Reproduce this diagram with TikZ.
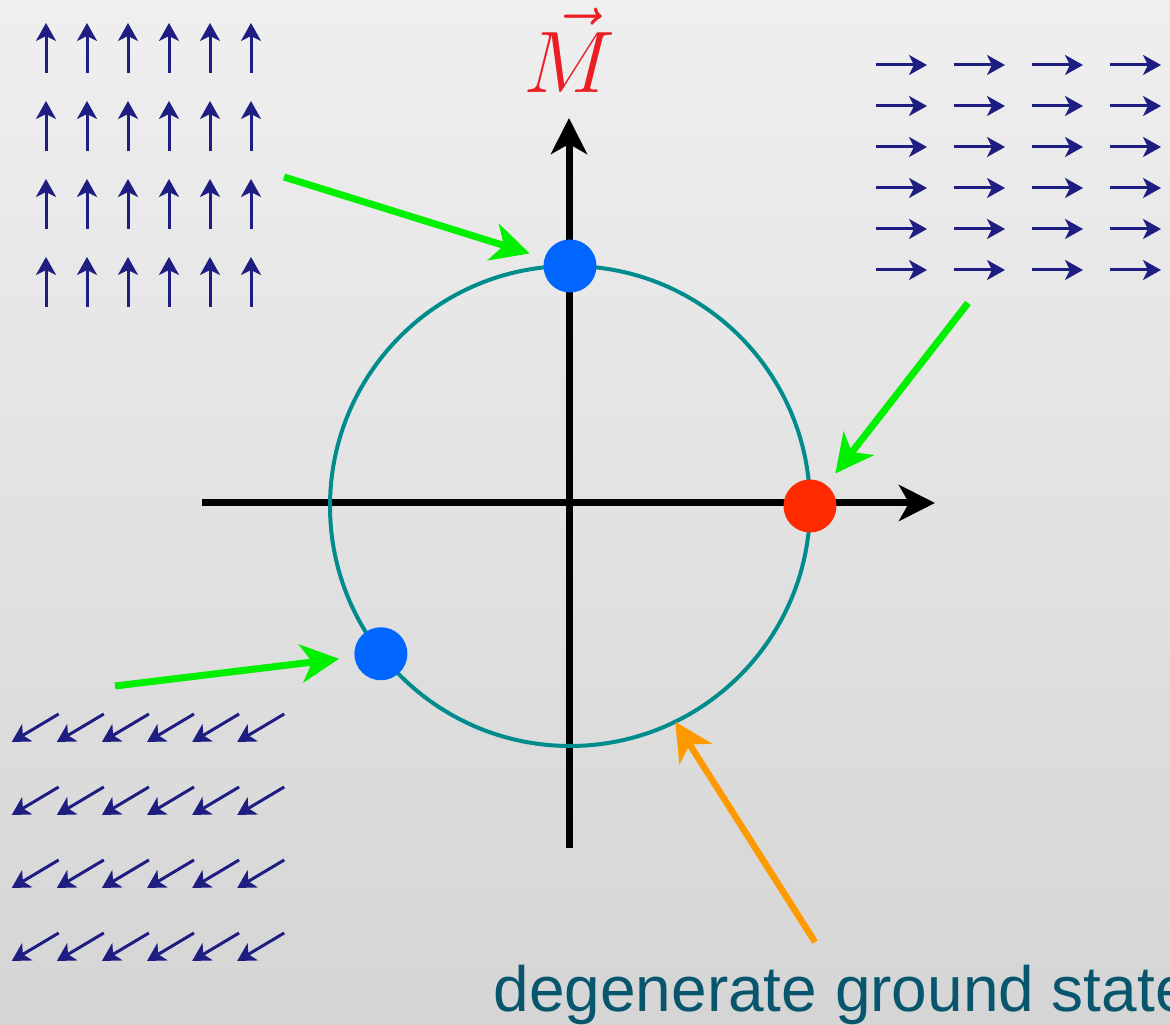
\documentclass[tikz,border=0pt]{standalone}
\usepackage{fontspec}
\newfontfamily\labelfont{Liberation Sans}
\usetikzlibrary{arrows.meta,positioning}
\definecolor{bgtop}{RGB}{239,239,239}
\definecolor{bgbot}{RGB}{213,213,213}
\definecolor{spinblue}{RGB}{30,30,130}
\definecolor{ringteal}{RGB}{0,140,140}
\definecolor{dotblue}{RGB}{0,102,255}
\definecolor{dotred}{RGB}{255,42,0}
\definecolor{markgreen}{RGB}{0,240,0}
\definecolor{markorange}{RGB}{255,153,0}
\definecolor{mred}{RGB}{235,30,35}
\definecolor{gstext}{RGB}{8,85,110}

\begin{document}
\begin{tikzpicture}[x=0.1mm,y=-0.1mm,>=Stealth,
  axis/.style={->,line width=0.7mm,>={Stealth[length=3.6mm,width=3.6mm,inset=1mm]}},
  spin/.style={->,line width=0.3mm,spinblue,>={Stealth[length=1.8mm,width=2mm,inset=0.5mm]}},
  pointer/.style={->,line width=0.7mm,>={Stealth[length=3.8mm,width=3.8mm,inset=1.1mm]}},
  dot/.style={circle,inner sep=0,minimum size=5.3mm}]
\shade[top color=bgtop,bottom color=bgbot] (0,0) rectangle (1170,1025);
\useasboundingbox (0,0) rectangle (1170,1025);
\coordinate (xneg) at (202,503); \coordinate (xpos) at (935,503);
\coordinate (yneg) at (569,848); \coordinate (ypos) at (569,118);
\draw[axis] (xneg) -- (xpos);
\draw[axis] (yneg) -- (ypos);
\node[anchor=base,text=mred,font=\fontsize{26}{30}\selectfont,inner sep=0] (mlabel) at (569,93) {$\vec{M}$};
\node[circle,draw=ringteal,line width=0.4mm,minimum size=48mm,inner sep=0,outer sep=0] (ring) at (570,506) {};
\node[dot,fill=dotblue] (up) at (ring.90) {};
\node[dot,fill=dotred] (right) at (ring.0) {};
\node[dot,fill=dotblue] (tilt) at (ring.-142) {};
\foreach \i in {0,...,5} \foreach \j in {0,...,3} \draw[spin] (46+41*\i,73+78*\j) -- ++(0,-50);
\foreach \i in {0,...,3} \foreach \j in {0,...,5} \draw[spin] (876+78*\i,65+41*\j) -- ++(51,0);
\foreach \i in {0,...,5} \foreach \j in {0,...,3} \draw[spin] (58.7+45.1*\i,714+73*\j) -- ++(-47,28);
\coordinate (upsrc) at (284,177);
\coordinate (rightsrc) at (968,303);
\coordinate (tiltsrc) at (115,686);
\coordinate (gssrc) at (815,942);
\draw[pointer,markgreen,shorten >=1.5mm] (upsrc) -- (up);
\draw[pointer,markgreen,shorten >=1.4mm] (rightsrc) -- (right);
\draw[pointer,markgreen,shorten >=1.5mm] (tiltsrc) -- (tilt);
\draw[pointer,markorange,line width=0.65mm] (gssrc) -- (ring.-64);
\node[anchor=base west,text=gstext,font=\labelfont\fontsize{18.2}{22}\selectfont,inner sep=0] (gs) at (493,1012) {degenerate ground state};
\end{tikzpicture}
\end{document}
